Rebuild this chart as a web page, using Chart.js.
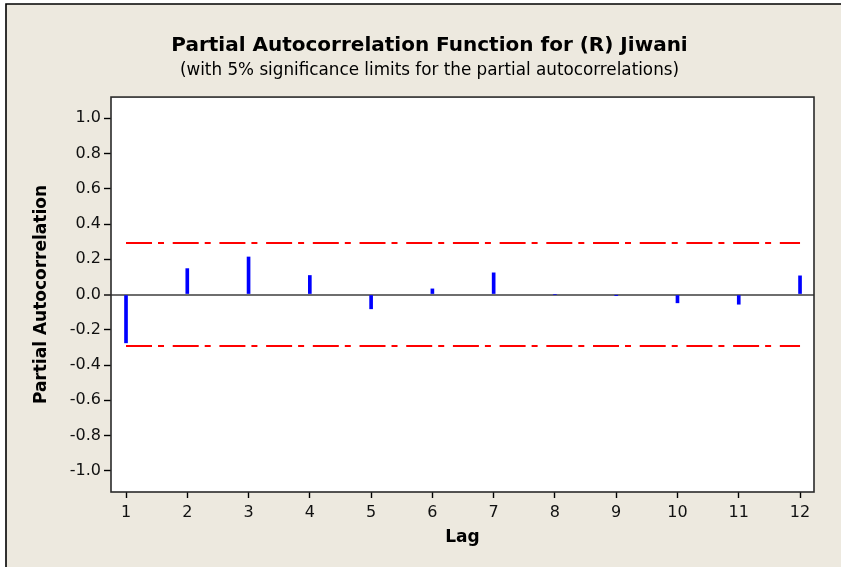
<!DOCTYPE html>
<html>
<head>
<meta charset="utf-8">
<script src="https://cdn.jsdelivr.net/npm/chart.js@4/dist/chart.umd.min.js"></script>
<style>
  html, body { margin: 0; padding: 0; background: #ffffff; }
  #wrap { width: 841px; height: 567px; }
</style>
</head>
<body>
<div id="wrap"><canvas id="c" width="841" height="567"></canvas></div>
<script>
// Lags and partial autocorrelations
const lags = [1, 2, 3, 4, 5, 6, 7, 8, 9, 10, 11, 12];
const pacf = [-0.274, 0.147, 0.213, 0.108, -0.081, 0.032, 0.123, 0.000, -0.004, -0.047, -0.055, 0.106];

// 5% significance limits
const upperLimit = [0.292, 0.292];
const lowerLimit = [-0.292, -0.292];
const limitLags = [1, 12];

// Axis ticks
const yTicks = [-1.0, -0.8, -0.6, -0.4, -0.2, 0.0, 0.2, 0.4, 0.6, 0.8, 1.0];
const xTicks = lags;

const FONT = '"DejaVu Sans", sans-serif';
const PANEL = '#EDE9DF';

// Page background, outer border and white plot area
const backdrop = {
  id: 'backdrop',
  beforeDraw(chart) {
    const { ctx, width, height, chartArea: a } = chart;
    ctx.save();
    ctx.fillStyle = '#ffffff';
    ctx.fillRect(0, 0, width, height);
    ctx.fillStyle = PANEL;
    ctx.fillRect(6, 4, width - 6, height - 4);
    ctx.strokeStyle = '#000000';
    ctx.lineWidth = 1.6;
    ctx.beginPath();
    ctx.moveTo(6, height);
    ctx.lineTo(6, 4);
    ctx.lineTo(width, 4);
    ctx.stroke();
    ctx.fillStyle = '#ffffff';
    ctx.fillRect(a.left, a.top, a.right - a.left, a.bottom - a.top);
    ctx.restore();
  },
  afterDatasetsDraw(chart) {
    const { ctx, chartArea: a } = chart;
    ctx.save();
    ctx.strokeStyle = '#2a2a2a';
    ctx.lineWidth = 1.6;
    ctx.strokeRect(a.left, a.top, a.right - a.left, a.bottom - a.top);
    ctx.restore();
  }
};

const limitStyle = {
  type: 'line',
  borderColor: '#FF0000',
  borderWidth: 2,
  borderDash: [26, 6, 6, 8.7],
  pointRadius: 0,
  fill: false,
  order: 1
};

new Chart(document.getElementById('c'), {
  type: 'bar',
  data: {
    datasets: [
      {
        label: 'PACF',
        data: lags.map((l, i) => ({ x: l, y: pacf[i] })),
        backgroundColor: '#0000FF',
        borderWidth: 0,
        barThickness: 3,
        order: 2
      },
      Object.assign({ label: 'Upper limit', data: limitLags.map((l, i) => ({ x: l, y: upperLimit[i] })) }, limitStyle),
      Object.assign({ label: 'Lower limit', data: limitLags.map((l, i) => ({ x: l, y: lowerLimit[i] })) }, limitStyle)
    ]
  },
  options: {
    responsive: false,
    animation: false,
    devicePixelRatio: 1,
    layout: { padding: { left: 45, right: 27, top: 0, bottom: 0 } },
    plugins: {
      legend: { display: false },
      tooltip: { enabled: false },
      title: {
        display: true,
        text: 'Partial Autocorrelation Function for (R) Jiwani',
        color: '#000000',
        font: { family: FONT, size: 20, weight: 'bold', lineHeight: 1.2 },
        padding: { top: 33.5, bottom: 2 }
      },
      subtitle: {
        display: true,
        text: '(with 5% significance limits for the partial autocorrelations)',
        color: '#000000',
        font: { family: FONT, size: 16.8, weight: 'normal', lineHeight: 1.2 },
        padding: { top: 1.4, bottom: 16.0 }
      }
    },
    scales: {
      x: {
        type: 'linear',
        min: 0.755,
        max: 12.228,
        offset: false,
        afterBuildTicks(scale) { scale.ticks = xTicks.map(v => ({ value: v })); },
        afterFit(scale) { scale.height = 75; },
        ticks: {
          color: '#111111',
          font: { family: FONT, size: 16 },
          padding: 5,
          maxRotation: 0,
          autoSkip: false,
          callback: v => String(v)
        },
        grid: {
          offset: false,
          drawOnChartArea: false,
          drawTicks: true,
          tickLength: 6,
          tickColor: '#000000',
          tickWidth: 1.4
        },
        border: { display: false },
        title: {
          display: true,
          text: 'Lag',
          color: '#000000',
          font: { family: FONT, size: 17, weight: 'bold', lineHeight: 1.2 },
          padding: { top: 0, bottom: 19.5 }
        }
      },
      y: {
        type: 'linear',
        min: -1.12,
        max: 1.12,
        afterBuildTicks(scale) { scale.ticks = yTicks.map(v => ({ value: v })); },
        afterFit(scale) { scale.width = 66; },
        ticks: {
          color: '#111111',
          font: { family: FONT, size: 16 },
          padding: 3,
          callback: v => v.toFixed(1)
        },
        grid: {
          drawOnChartArea: true,
          drawTicks: true,
          tickLength: 7,
          tickColor: '#000000',
          tickWidth: 1.4,
          color: c => (c.tick && Math.abs(c.tick.value) < 1e-9) ? '#6E6E6E' : 'rgba(0,0,0,0)',
          lineWidth: c => (c.tick && Math.abs(c.tick.value) < 1e-9) ? 2 : 1
        },
        border: { display: false },
        title: {
          display: true,
          text: 'Partial Autocorrelation',
          color: '#000000',
          font: { family: FONT, size: 17, weight: 'bold', lineHeight: 1.2 },
          padding: { top: -13.2, bottom: 0 }
        }
      }
    }
  },
  plugins: [backdrop]
});
</script>
</body>
</html>
